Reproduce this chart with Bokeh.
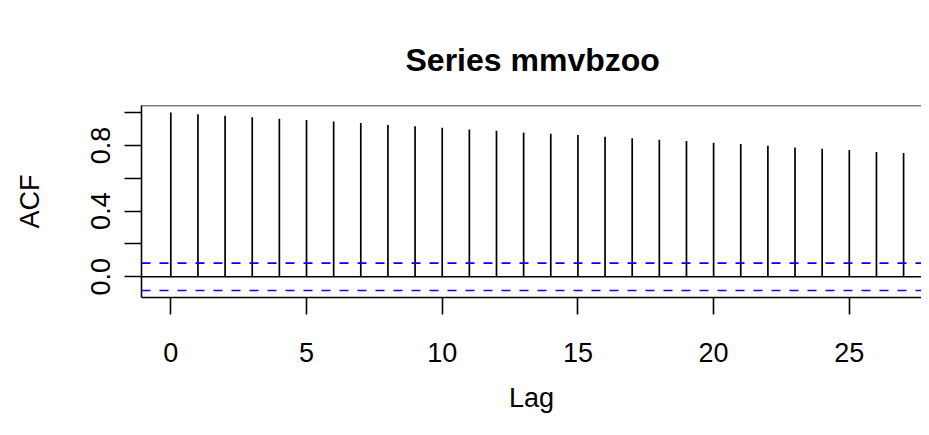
from bokeh.plotting import figure
from bokeh.models import Range1d, Span, FixedTicker
from bokeh.embed import file_html
from bokeh.resources import INLINE

# ---- data ----
lags = list(range(28))
acf_values = [1.000, 0.990, 0.980, 0.972, 0.962, 0.954, 0.945, 0.936, 0.925, 0.917,
              0.907, 0.897, 0.889, 0.879, 0.871, 0.863, 0.853, 0.843, 0.835, 0.827,
              0.816, 0.808, 0.798, 0.788, 0.780, 0.772, 0.760, 0.754]
conf_limit = 0.083
x_ticks = [0, 5, 10, 15, 20, 25]
y_ticks = [0.0, 0.2, 0.4, 0.6, 0.8, 1.0]
y_tick_labels = ["0.0", "", "0.4", "", "0.8", ""]
title_text = "Series  mmvbzoo"
x_label = "Lag"
y_label = "ACF"

FONT = "Liberation Sans"

p = figure(width=921, height=427, output_backend="svg", toolbar_location=None,
           x_range=Range1d(-1.08, 27.66), y_range=Range1d(-0.126, 1.043),
           min_border_left=141, min_border_top=105, min_border_bottom=130,
           min_border_right=0)

p.xgrid.visible = False
p.ygrid.visible = False
p.outline_line_color = None
p.background_fill_color = "white"
p.border_fill_color = "white"

# bars
p.segment(x0=lags, y0=[0] * len(lags), x1=lags, y1=acf_values,
          line_color="black", line_width=1.7)

# zero line and confidence bands
p.add_layout(Span(location=0, dimension="width", line_color="black", line_width=1.6))
p.add_layout(Span(location=conf_limit, dimension="width", line_color="#0000FF",
                  line_width=1.6, line_dash="9 9"))
p.add_layout(Span(location=-conf_limit, dimension="width", line_color="#0000FF",
                  line_width=1.6, line_dash="9 9"))
# top edge of the box
p.add_layout(Span(location=1.043, dimension="width", line_color="black", line_width=1.6))

# x axis
xa = p.xaxis[0]
xa.ticker = FixedTicker(ticks=x_ticks)
xa.minor_tick_line_color = None
xa.major_tick_out = 17
xa.major_tick_in = 0
xa.major_tick_line_width = 1.6
xa.axis_line_width = 1.6
xa.major_label_standoff = 28
xa.major_label_text_font = FONT
xa.major_label_text_font_size = "27px"
xa.major_label_text_color = "black"
xa.axis_label = x_label
xa.axis_label_text_font = FONT
xa.axis_label_text_font_size = "27px"
xa.axis_label_text_font_style = "normal"
xa.axis_label_text_color = "black"
xa.axis_label_standoff = 18

# y axis
ya = p.yaxis[0]
ya.ticker = FixedTicker(ticks=y_ticks)
ya.major_label_overrides = {t: lab for t, lab in zip(y_ticks, y_tick_labels)}
ya.minor_tick_line_color = None
ya.major_tick_out = 17
ya.major_tick_in = 0
ya.major_tick_line_width = 1.6
ya.axis_line_width = 1.6
ya.major_label_standoff = 14
ya.major_label_orientation = "vertical"
ya.major_label_text_font = FONT
ya.major_label_text_font_size = "27px"
ya.major_label_text_color = "black"
ya.axis_label = y_label
ya.axis_label_text_font = FONT
ya.axis_label_text_font_size = "27px"
ya.axis_label_text_font_style = "normal"
ya.axis_label_text_color = "black"
ya.axis_label_standoff = 44

# title
p.title.text = title_text
p.title.align = "left"
p.title.offset = 264
p.title.text_font = FONT
p.title.text_font_size = "32px"
p.title.text_font_style = "bold"
p.title.text_color = "black"
p.title.standoff = 56

open("out.html", "w").write(file_html(p, INLINE))
